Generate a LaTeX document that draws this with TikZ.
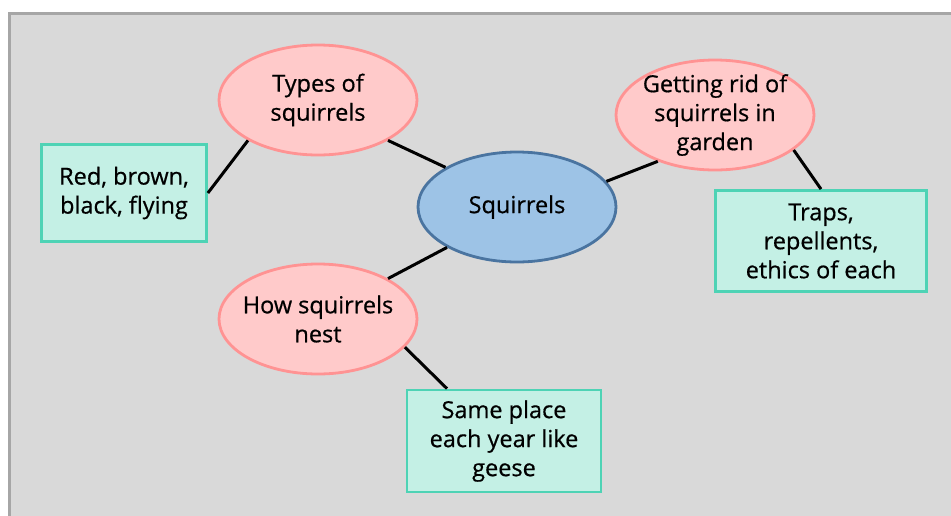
\documentclass[tikz,border=0pt]{standalone}
\usepackage{fontspec}
\setmainfont{Open Sans}
\newfontfamily\mapfont{Open Sans}[FakeBold=0.6]
\usetikzlibrary{shapes.geometric}
\definecolor{bgfill}{HTML}{D9D9D9}
\definecolor{bgline}{HTML}{A6A6A6}
\definecolor{pinkfill}{HTML}{FFCACA}
\definecolor{pinkline}{HTML}{FF9393}
\definecolor{bluefill}{HTML}{9DC3E6}
\definecolor{blueline}{HTML}{4A74A0}
\definecolor{tealfill}{HTML}{C4F0E5}
\definecolor{tealline}{HTML}{4ED3B5}
\tikzstyle{topic}=[ellipse,draw=pinkline,fill=pinkfill,line width=2.8pt,minimum width=198pt,minimum height=110pt,inner sep=-8pt,align=center,font=\mapfont\fontsize{23.5}{29}\selectfont]
\tikzstyle{hub}=[topic,draw=blueline,fill=bluefill]
\tikzstyle{fact}=[rectangle,draw=tealline,fill=tealfill,line width=2.8pt,inner sep=0pt,align=center,font=\mapfont\fontsize{23.5}{29}\selectfont]
\tikzstyle{link}=[line width=3pt,black]

\begin{document}
\begin{tikzpicture}[x=1pt,y=-1pt]
\useasboundingbox (0,0) rectangle (951,515);
\begin{scope}
\clip (0,0) rectangle (951,515);
\fill[bgfill] (9,13) rectangle (960,525);
\draw[bgline,line width=3pt] (9,530) -- (9,13) -- (960,13);
\end{scope}
% ellipses
\node[hub] (sq) at (517,207) {Squirrels};
\node[topic] (types) at (318,100) {Types of\\squirrels};
\node[topic] (rid) at (715,115) {Getting rid of\\squirrels in\\garden};
\node[topic] (nest) at (318,319) {How squirrels\\nest};
% boxes
\node[fact,minimum width=165pt,minimum height=97pt] (colours) at (124,193) {Red, brown,\\black, flying};
\node[fact,minimum width=211pt,minimum height=101pt] (traps) at (821,241) {Traps,\\repellents,\\ethics of each};
\node[fact,minimum width=194pt,minimum height=102pt] (place) at (504,441) {Same place\\each year like\\geese};
% links
\draw[link] (types.-30) -- (sq.151);
\draw[link] (rid.219) -- (sq.16);
\draw[link] (nest.30) -- (sq.210);
\draw[link] (colours.east) -- (types.210);
\draw[link] (rid.-24) -- (traps.north);
\draw[link] ([xshift=-57pt]place.north) -- (nest.-18);
\end{tikzpicture}
\end{document}
